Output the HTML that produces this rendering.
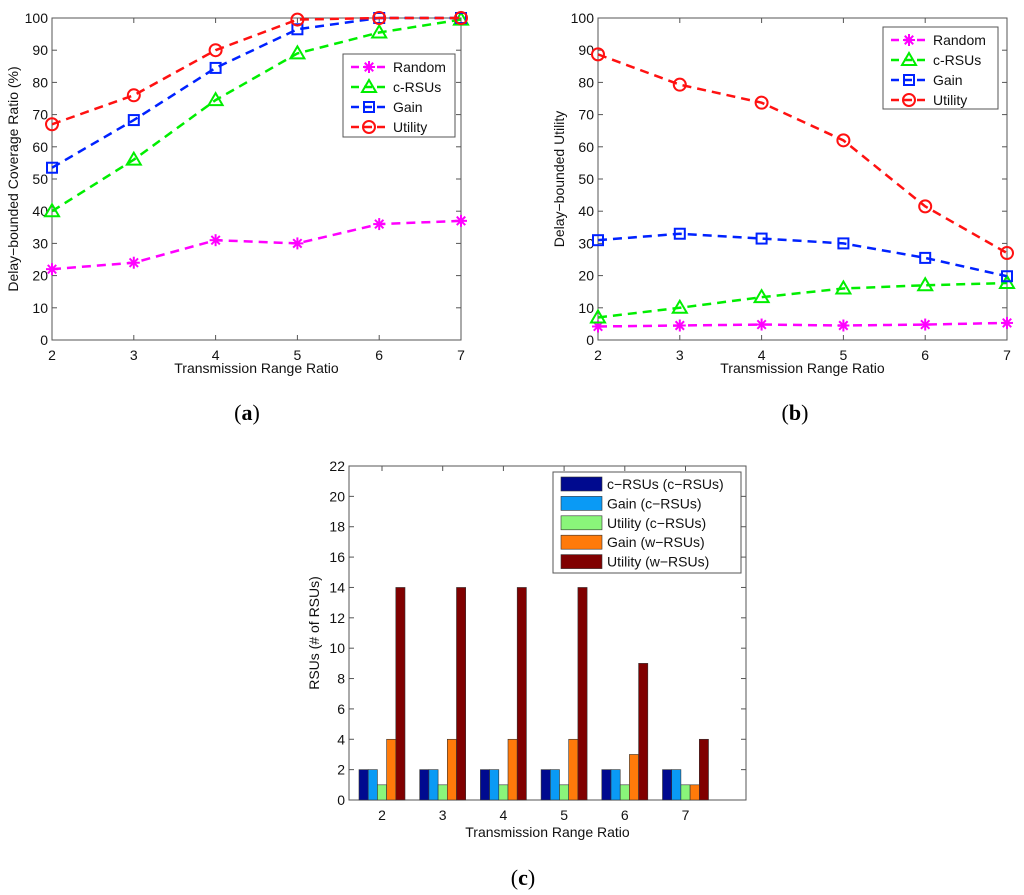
<!DOCTYPE html>
<html><head><meta charset="utf-8"><style>
html,body{margin:0;padding:0;background:#fff;}
svg{display:block;font-family:"Liberation Sans",sans-serif;}
</style></head><body>
<svg id="s" width="1024" height="895" xmlns="http://www.w3.org/2000/svg"></svg>
<script>
const xCats=[2,3,4,5,6,7];
const aRandom=[22,24,31,30,36,37];
const aCrsu=[40,56,74.5,89,95.5,99.5];
const aGain=[53.5,68.3,84.5,96.5,100,100];
const aUtil=[67,76,90,99.5,100,100];
const bRandom=[4.2,4.5,4.8,4.5,4.8,5.3];
const bCrsu=[7,10,13.3,16,17,17.7];
const bGain=[31,33,31.5,30,25.5,19.8];
const bUtil=[88.7,79.3,73.7,62,41.5,27];
const yTicksA=[0,10,20,30,40,50,60,70,80,90,100];
const cCats=[2,3,4,5,6,7];
const cCrsu=[2,2,2,2,2,2];
const cGainC=[2,2,2,2,2,2];
const cUtilC=[1,1,1,1,1,1];
const cGainW=[4,4,4,4,3,1];
const cUtilW=[14,14,14,14,9,4];
const yTicksC=[0,2,4,6,8,10,12,14,16,18,20,22];

const NS="http://www.w3.org/2000/svg";
const S=document.getElementById('s');
function el(t,a,p){const e=document.createElementNS(NS,t);for(const k in a)e.setAttribute(k,a[k]);(p||S).appendChild(e);return e;}
function txt(x,y,s,a,p){const e=el('text',Object.assign({x:x,y:y},a),p);e.textContent=s;return e;}

function marker(g,type,x,y,c){
  if(type==='star'){
    for(let k=0;k<4;k++){const an=k*Math.PI/4;el('line',{x1:x-6*Math.cos(an),y1:y-6*Math.sin(an),x2:x+6*Math.cos(an),y2:y+6*Math.sin(an),stroke:c,'stroke-width':2},g);}
  }else if(type==='tri'){
    el('polygon',{points:`${x},${y-7} ${x-7},${y+5} ${x+7},${y+5}`,fill:'none',stroke:c,'stroke-width':2},g);
  }else if(type==='sq'){
    el('rect',{x:x-5,y:y-5,width:10,height:10,fill:'none',stroke:c,'stroke-width':2},g);
  }else{
    el('circle',{cx:x,cy:y,r:6,fill:'none',stroke:c,'stroke-width':2},g);
  }
}

function lineChart(id,L,R,T,B,ymax,series,yTitle,leg){
  const g=el('g',{});
  
  
  const xs=v=>L+(v-2)/5*(R-L);
  const ys=v=>B-v/ymax*(B-T);
  el('rect',{x:L,y:T,width:R-L,height:B-T,fill:'#fff',stroke:'#555','stroke-width':1},g);
  yTicksA.forEach(v=>{const y=ys(v);
    el('line',{x1:L,y1:y,x2:L+5,y2:y,stroke:'#555'},g);el('line',{x1:R,y1:y,x2:R-5,y2:y,stroke:'#555'},g);
    const t=txt(L-4,y+5,String(v),{'font-size':14,'text-anchor':'end',fill:'#111'},g);
    });
  xCats.forEach(v=>{const x=xs(v);
    el('line',{x1:x,y1:B,x2:x,y2:B-5,stroke:'#555'},g);el('line',{x1:x,y1:T,x2:x,y2:T+5,stroke:'#555'},g);
    const t=txt(x,B+20,String(v),{'font-size':14,'text-anchor':'middle',fill:'#111'},g);
    });
  series.forEach(s=>{
    const sg=el('g',{},g);
    
    
    el('polyline',{points:s.vals.map((v,i)=>xs(xCats[i])+','+ys(v)).join(' '),fill:'none',stroke:s.c,'stroke-width':2.5,'stroke-dasharray':'9,6'},sg);
    s.vals.forEach((v,i)=>marker(sg,s.m,xs(xCats[i]),ys(v),s.c));
  });
  const xt=txt((L+R)/2,B+33,'Transmission Range Ratio',{'font-size':14,'text-anchor':'middle',fill:'#111'},g);
  
  const yt=txt(0,0,yTitle,{'font-size':14,'text-anchor':'middle',fill:'#111',transform:`translate(${L-34},${(T+B)/2}) rotate(-90)`},g);
  
  const lg=el('g',{},g);
  
  el('rect',{x:leg[0],y:leg[1],width:leg[2],height:leg[3],fill:'#fff',stroke:'#555'},lg);
  series.forEach((s,i)=>{const y=leg[1]+13+i*20;
    const e=el('g',{},lg);
    el('line',{x1:leg[0]+8,y1:y,x2:leg[0]+45,y2:y,stroke:s.c,'stroke-width':2.5,'stroke-dasharray':'8,5'},e);
    marker(e,s.m,leg[0]+26,y,s.c);
    txt(leg[0]+50,y+5,s.name,{'font-size':14,fill:'#111'},e);});
}

const sA=[{name:'Random',vals:aRandom,c:'#ff00ff',m:'star'},{name:'c-RSUs',vals:aCrsu,c:'#00ee00',m:'tri'},{name:'Gain',vals:aGain,c:'#0022ff',m:'sq'},{name:'Utility',vals:aUtil,c:'#ff1111',m:'circ'}];
lineChart('chart-a',52,461,18,340,100,sA,'Delay\u2212bounded Coverage Ratio (%)',[343,54,112,83]);
const sB=[{name:'Random',vals:bRandom,c:'#ff00ff',m:'star'},{name:'c-RSUs',vals:bCrsu,c:'#00ee00',m:'tri'},{name:'Gain',vals:bGain,c:'#0022ff',m:'sq'},{name:'Utility',vals:bUtil,c:'#ff1111',m:'circ'}];
lineChart('chart-b',598,1007,18,340,100,sB,'Delay\u2212bounded Utility',[883,27,115,82]);

// Bar chart c
(function(){
  const L=349,R=746,T=466,B=800,ymax=22;
  const g=el('g',{});
  
  const xs=v=>382+(v-2)*60.7;
  const ys=v=>B-v/ymax*(B-T);
  el('rect',{x:L,y:T,width:R-L,height:B-T,fill:'#fff',stroke:'#555'},g);
  yTicksC.forEach(v=>{const y=ys(v);
    el('line',{x1:L,y1:y,x2:L+5,y2:y,stroke:'#555'},g);el('line',{x1:R,y1:y,x2:R-5,y2:y,stroke:'#555'},g);
    const t=txt(L-4,y+5,String(v),{'font-size':14,'text-anchor':'end',fill:'#111'},g);
    });
  const ser=[{n:'c\u2212RSUs (c\u2212RSUs)',v:cCrsu,c:'#000a8f'},{n:'Gain (c\u2212RSUs)',v:cGainC,c:'#0a9af5'},{n:'Utility (c\u2212RSUs)',v:cUtilC,c:'#8af57a'},{n:'Gain (w\u2212RSUs)',v:cGainW,c:'#ff7a0a'},{n:'Utility (w\u2212RSUs)',v:cUtilW,c:'#800000'}];
  const bw=9.2;
  cCats.forEach((cat,i)=>{const x=xs(cat);
    el('line',{x1:x,y1:B,x2:x,y2:B-5,stroke:'#555'},g);el('line',{x1:x,y1:T,x2:x,y2:T+5,stroke:'#555'},g);
    const t=txt(x,B+20,String(cat),{'font-size':14,'text-anchor':'middle',fill:'#111'},g);
    
    ser.forEach((s,j)=>{const v=s.v[i];
      const r=el('rect',{x:x-2.5*bw+j*bw,y:ys(v),width:bw,height:B-ys(v),fill:s.c,stroke:'#333','stroke-width':0.6},g);
      });
  });
  const xt=txt((L+R)/2,B+37,'Transmission Range Ratio',{'font-size':14,'text-anchor':'middle',fill:'#111'},g);
  
  const yt=txt(0,0,'RSUs (# of RSUs)',{'font-size':14,'text-anchor':'middle',fill:'#111',transform:`translate(${L-30},${(T+B)/2}) rotate(-90)`},g);
  
  const lg=el('g',{},g);
  el('rect',{x:553,y:472,width:188,height:101,fill:'#fff',stroke:'#555'},lg);
  ser.forEach((s,i)=>{const y=484+i*19.4;
    const e=el('g',{},lg);
    el('rect',{x:561,y:y-7,width:41,height:14,fill:s.c,stroke:'#333','stroke-width':0.6},e);
    txt(607,y+5,s.n,{'font-size':14,fill:'#111'},e);});
})();

[['(a)',247,420,'label-a'],['(b)',795,420,'label-b'],['(c)',523,885,'label-c']].forEach(l=>{
  const t=el('text',{x:l[1],y:l[2],'font-size':22,'text-anchor':'middle',fill:'#000','font-family':'Liberation Serif, serif'});
  t.innerHTML='(<tspan font-weight="bold">'+l[0][1]+'</tspan>)';
  
});
</script>
</body></html>
